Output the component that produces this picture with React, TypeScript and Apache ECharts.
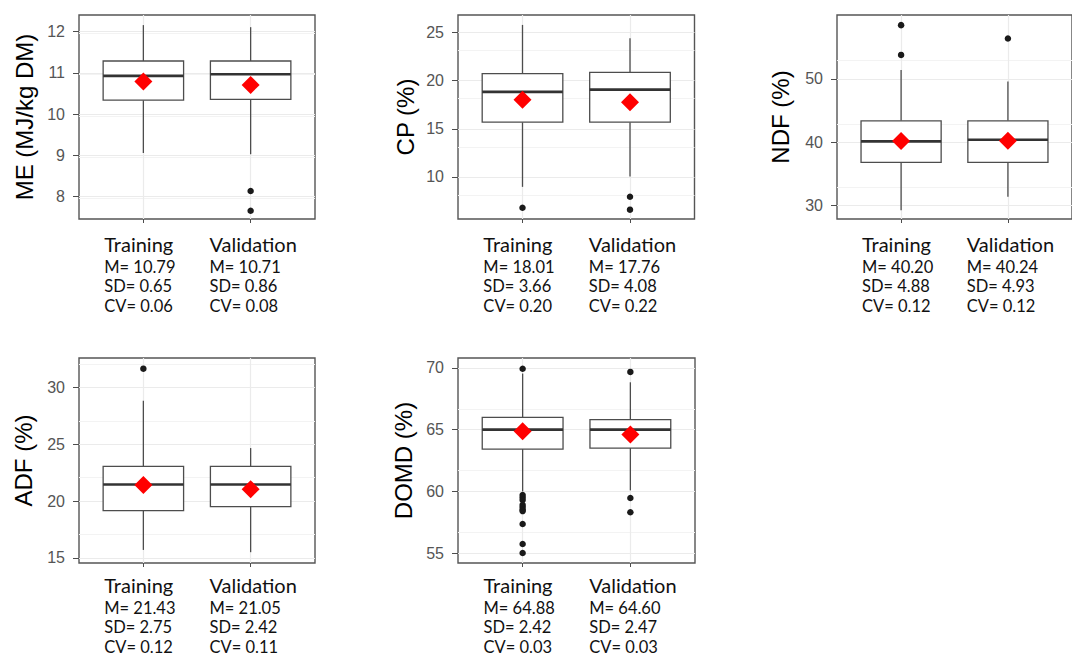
import { useEffect, useRef } from "react";
import * as echarts from "echarts";

// ---------- data ----------
const groups = ["Training", "Validation"];

// box stats: [lower whisker, Q1, median, Q3, upper whisker]
const meTraining = [9.06, 10.34, 10.93, 11.29, 12.16];
const meValidation = [9.03, 10.36, 10.97, 11.29, 12.11];
const meOutTraining: number[] = [];
const meOutValidation = [8.14, 7.66];
const meMean = [10.79, 10.71];
const meSD = [0.65, 0.86];
const meCV = [0.06, 0.08];
const meTicks = [8, 9, 10, 11, 12];

const cpTraining = [8.97, 15.69, 18.84, 20.73, 25.8];
const cpValidation = [10.05, 15.69, 19.07, 20.86, 24.42];
const cpOutTraining = [6.8];
const cpOutValidation = [7.94, 6.6];
const cpMean = [18.01, 17.76];
const cpSD = [3.66, 4.08];
const cpCV = [0.2, 0.22];
const cpTicks = [10, 15, 20, 25];

const ndfTraining = [29.3, 36.84, 40.16, 43.4, 51.4];
const ndfValidation = [31.4, 36.84, 40.42, 43.4, 49.6];
const ndfOutTraining = [58.5, 53.8];
const ndfOutValidation = [56.4];
const ndfMean = [40.2, 40.24];
const ndfSD = [4.88, 4.93];
const ndfCV = [0.12, 0.12];
const ndfTicks = [30, 40, 50];

const adfTraining = [15.71, 19.17, 21.46, 23.05, 28.83];
const adfValidation = [15.51, 19.52, 21.46, 23.05, 24.67];
const adfOutTraining = [31.65];
const adfOutValidation: number[] = [];
const adfMean = [21.43, 21.05];
const adfSD = [2.75, 2.42];
const adfCV = [0.12, 0.11];
const adfTicks = [15, 20, 25, 30];

const domdTraining = [60.0, 63.43, 65.0, 66.0, 69.55];
const domdValidation = [60.08, 63.51, 65.0, 65.81, 68.84];
const domdOutTraining = [69.94, 59.7, 59.5, 59.3, 58.9, 58.7, 58.5, 58.4, 57.35, 55.73, 55.0];
const domdOutValidation = [69.68, 59.46, 58.3];
const domdMean = [64.88, 64.6];
const domdSD = [2.42, 2.47];
const domdCV = [0.03, 0.03];
const domdTicks = [55, 60, 65, 70];

// ---------- panels (layout kept separate) ----------
type Panel = {
  title: string;
  boxes: number[][];
  outliers: number[][];
  mean: number[];
  sd: number[];
  cv: number[];
  ticks: number[];
  interval: number;
  yMin: number;
  yMax: number;
  left: number;
  top: number;
  width: number;
  height: number;
  nameGap: number;
  labelMargin: number;
};

const panels: Panel[] = [
  { title: "ME (MJ/kg DM)", boxes: [meTraining, meValidation], outliers: [meOutTraining, meOutValidation], mean: meMean, sd: meSD, cv: meCV, ticks: meTicks, interval: 1, yMin: 7.46, yMax: 12.405, left: 79, top: 15, width: 236, height: 204, nameGap: 43, labelMargin: 11 },
  { title: "CP (%)", boxes: [cpTraining, cpValidation], outliers: [cpOutTraining, cpOutValidation], mean: cpMean, sd: cpSD, cv: cpCV, ticks: cpTicks, interval: 5, yMin: 5.63, yMax: 26.83, left: 458, top: 15, width: 236.5, height: 204, nameGap: 41, labelMargin: 11 },
  { title: "NDF (%)", boxes: [ndfTraining, ndfValidation], outliers: [ndfOutTraining, ndfOutValidation], mean: ndfMean, sd: ndfSD, cv: ndfCV, ticks: ndfTicks, interval: 10, yMin: 27.9, yMax: 60.1, left: 837, top: 15, width: 236, height: 204, nameGap: 45, labelMargin: 11 },
  { title: "ADF (%)", boxes: [adfTraining, adfValidation], outliers: [adfOutTraining, adfOutValidation], mean: adfMean, sd: adfSD, cv: adfCV, ticks: adfTicks, interval: 5, yMin: 14.56, yMax: 32.59, left: 79, top: 358, width: 236, height: 205, nameGap: 44, labelMargin: 8 },
  { title: "DOMD (%)", boxes: [domdTraining, domdValidation], outliers: [domdOutTraining, domdOutValidation], mean: domdMean, sd: domdSD, cv: domdCV, ticks: domdTicks, interval: 5, yMin: 54.19, yMax: 70.81, left: 458, top: 358, width: 237, height: 205, nameGap: 43, labelMargin: 8 },
];

const BOX_COLOR = "#4d4d4d";
const FRAME_COLOR = "#555555";
const LABEL_FONT = "Lato";

function buildOption() {
  const grid: any[] = [];
  const xAxis: any[] = [];
  const yAxis: any[] = [];
  const series: any[] = [];

  panels.forEach((p, i) => {
    grid.push({
      left: p.left,
      top: p.top,
      width: p.width,
      height: p.height,
      show: true,
      borderColor: FRAME_COLOR,
      borderWidth: 1.4,
      backgroundColor: "#fff",
      containLabel: false,
    });
    xAxis.push({
      type: "value",
      gridIndex: i,
      min: 0.4,
      max: 2.6,
      interval: 1,
      axisLine: { show: false },
      axisTick: { show: true, customValues: [1, 2], length: 4, lineStyle: { color: BOX_COLOR, width: 1 } },
      splitLine: { show: true, lineStyle: { color: "#ebebeb", width: 1.2 } },
      axisLabel: {
        customValues: [1, 2],
        margin: p.labelMargin,
        formatter: (v: number) => {
          const g = Math.round(v) === 1 ? 0 : 1;
          const a = g === 0 ? "ta" : "va";
          const b = g === 0 ? "tb" : "vb";
          return (
            `{${a}|${groups[g]}}\n` +
            `{${b}|M= ${p.mean[g].toFixed(2)}}\n` +
            `{${b}|SD= ${p.sd[g].toFixed(2)}}\n` +
            `{${b}|CV= ${p.cv[g].toFixed(2)}}`
          );
        },
        rich: {
          ta: { fontFamily: LABEL_FONT, fontSize: 20, lineHeight: 27, color: "#111", align: "left", padding: [0, 7, 0, 0] },
          tb: { fontFamily: LABEL_FONT, fontSize: 16.5, lineHeight: 19.5, color: "#111", align: "left", padding: [0, 7, 0, 0] },
          va: { fontFamily: LABEL_FONT, fontSize: 20, lineHeight: 27, color: "#111", align: "left", padding: [0, 0, 0, 5] },
          vb: { fontFamily: LABEL_FONT, fontSize: 16.5, lineHeight: 19.5, color: "#111", align: "left", padding: [0, 0, 0, 5] },
        },
      },
    });
    yAxis.push({
      type: "value",
      gridIndex: i,
      min: p.yMin,
      max: p.yMax,
      interval: p.interval,
      name: p.title,
      nameLocation: "middle",
      nameGap: p.nameGap,
      nameTextStyle: { fontFamily: "Liberation Sans", fontSize: 24, color: "#000" },
      axisLine: { show: false },
      axisTick: { show: true, customValues: p.ticks, length: 6, lineStyle: { color: BOX_COLOR, width: 1 } },
      axisLabel: { customValues: p.ticks, fontFamily: "Liberation Sans", fontSize: 16, color: "#555", margin: 14 },
      splitLine: { show: true, lineStyle: { color: "#ebebeb", width: 1.2 } },
      minorTick: { show: false, splitNumber: 2 },
      minorSplitLine: { show: true, lineStyle: { color: "#f3f3f3", width: 1 } },
    });

    series.push({
      type: "custom",
      xAxisIndex: i,
      yAxisIndex: i,
      z: 3,
      encode: { x: 0, y: [1, 2, 3, 4, 5] },
      data: p.boxes.map((b, g) => [g + 1, ...b]),
      renderItem: (_params: any, api: any) => {
        const x = api.value(0);
        const lo = api.coord([x, api.value(1)]);
        const q1 = api.coord([x, api.value(2)]);
        const med = api.coord([x, api.value(3)]);
        const q3 = api.coord([x, api.value(4)]);
        const hi = api.coord([x, api.value(5)]);
        const w = api.size([0.75, 0], [x, api.value(3)])[0];
        const cx = lo[0];
        return {
          type: "group",
          children: [
            { type: "line", shape: { x1: cx, y1: hi[1], x2: cx, y2: q3[1] }, style: { stroke: BOX_COLOR, lineWidth: 1.3 } },
            { type: "line", shape: { x1: cx, y1: q1[1], x2: cx, y2: lo[1] }, style: { stroke: BOX_COLOR, lineWidth: 1.3 } },
            { type: "rect", shape: { x: cx - w / 2, y: q3[1], width: w, height: q1[1] - q3[1] }, style: { fill: "#fff", stroke: BOX_COLOR, lineWidth: 1.3 } },
            { type: "line", shape: { x1: cx - w / 2, y1: med[1], x2: cx + w / 2, y2: med[1] }, style: { stroke: "#333", lineWidth: 2.6 } },
          ],
        };
      },
    });

    const outData: number[][] = [];
    p.outliers.forEach((arr, g) => arr.forEach((v) => outData.push([g + 1, v])));
    series.push({
      type: "scatter",
      xAxisIndex: i,
      yAxisIndex: i,
      z: 4,
      symbol: "circle",
      symbolSize: 6.5,
      itemStyle: { color: "#1a1a1a", opacity: 1 },
      data: outData,
    });

    series.push({
      type: "scatter",
      xAxisIndex: i,
      yAxisIndex: i,
      z: 5,
      symbol: "diamond",
      symbolSize: 18,
      itemStyle: { color: "#ff0000", opacity: 1 },
      data: p.mean.map((m, g) => [g + 1, m]),
    });
  });

  return { animation: false, backgroundColor: "#fff", grid, xAxis, yAxis, series };
}

export default function App() {
  const ref = useRef<HTMLDivElement>(null);
  useEffect(() => {
    if (!ref.current) return;
    const chart = echarts.init(ref.current, undefined, { renderer: "svg" });
    chart.setOption(buildOption() as any);
    return () => chart.dispose();
  }, []);
  return (
    <div
      ref={ref}
      style={{ position: "absolute", left: 0, top: 0, width: 1072, height: 659, background: "#fff" }}
    />
  );
}
